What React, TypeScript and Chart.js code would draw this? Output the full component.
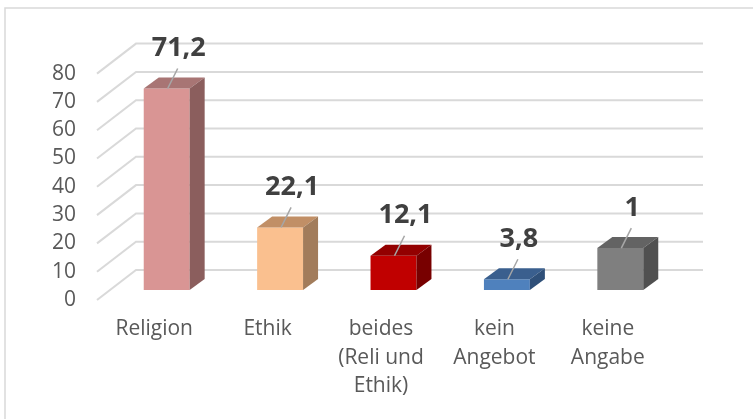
import React, { useEffect, useRef } from "react";
import { Chart, registerables } from "chart.js";

Chart.register(...registerables);

const categories: (string | string[])[] = [
  "Religion",
  "Ethik",
  ["beides", "(Reli und", "Ethik)"],
  ["kein", "Angebot"],
  ["keine", "Angabe"],
];
const values = [71.2, 22.1, 12.1, 3.8, 14.8];
const valueLabels = ["71,2", "22,1", "12,1", "3,8", "1"];
const yMin = 0;
const yMax = 80;
const yStep = 10;

const frontColors = ["#d99594", "#fac08f", "#c00000", "#4f81bd", "#7f7f7f"];
const topColors = ["#a87574", "#c18f66", "#930000", "#3a5f8e", "#636363"];
const sideColors = ["#8b5e5d", "#a27c5b", "#780000", "#2f5079", "#505050"];

const FONT = "'Open Sans', 'DejaVu Sans', sans-serif";

const DEPTH_DX = 15;
const DEPTH_DY = -11;
const WALL_DX = 26;
const WALL_DY = -20;
const FLOOR_DX = -13;
const FLOOR_DY = 10;

const threeD = {
  id: "threeD",
  beforeDraw(chart: any) {
    const { ctx, width, height } = chart;
    ctx.save();
    ctx.fillStyle = "#ffffff";
    ctx.fillRect(0, 0, width, height);
    ctx.strokeStyle = "#d9d9d9";
    ctx.lineWidth = 1.5;
    ctx.strokeRect(5, 8, width + 20, height + 20);
    ctx.restore();
  },
  beforeDatasetsDraw(chart: any) {
    const { ctx, chartArea } = chart;
    const ys = chart.scales.y;
    ctx.save();
    ctx.strokeStyle = "#d9d9d9";
    ctx.lineWidth = 2;
    for (let v = yMin; v <= yMax; v += yStep) {
      const y = ys.getPixelForValue(v);
      ctx.beginPath();
      ctx.moveTo(chartArea.left + FLOOR_DX, y + FLOOR_DY);
      ctx.lineTo(chartArea.left + WALL_DX, y + WALL_DY);
      ctx.lineTo(chartArea.right + WALL_DX, y + WALL_DY);
      ctx.stroke();
    }
    ctx.restore();
  },
  afterDatasetsDraw(chart: any) {
    const { ctx } = chart;
    const meta = chart.getDatasetMeta(0);
    ctx.save();
    meta.data.forEach((bar: any, i: number) => {
      const { x, y, base, width } = bar.getProps(["x", "y", "base", "width"], true);
      const l = x - width / 2;
      const r = x + width / 2;
      ctx.fillStyle = topColors[i];
      ctx.beginPath();
      ctx.moveTo(l, y);
      ctx.lineTo(r, y);
      ctx.lineTo(r + DEPTH_DX, y + DEPTH_DY);
      ctx.lineTo(l + DEPTH_DX, y + DEPTH_DY);
      ctx.closePath();
      ctx.fill();
      ctx.fillStyle = sideColors[i];
      ctx.beginPath();
      ctx.moveTo(r, y);
      ctx.lineTo(r + DEPTH_DX, y + DEPTH_DY);
      ctx.lineTo(r + DEPTH_DX, base + DEPTH_DY);
      ctx.lineTo(r, base);
      ctx.closePath();
      ctx.fill();
    });
    meta.data.forEach((bar: any, i: number) => {
      const { x, y } = bar.getProps(["x", "y"], true);
      ctx.strokeStyle = "#a6a6a6";
      ctx.lineWidth = 1.5;
      ctx.beginPath();
      ctx.moveTo(x + 11, y - 20);
      ctx.lineTo(x + 1, y);
      ctx.stroke();
      ctx.fillStyle = "#404040";
      ctx.font = `bold 27px ${FONT}`;
      ctx.textAlign = "center";
      ctx.textBaseline = "middle";
      ctx.fillText(valueLabels[i], x + 12, y - 40);
    });
    ctx.restore();
  },
};

export default function App() {
  const ref = useRef<HTMLCanvasElement>(null);
  useEffect(() => {
    if (!ref.current) return;
    const chart = new Chart(ref.current, {
      type: "bar",
      data: {
        labels: categories,
        datasets: [
          {
            data: values,
            backgroundColor: frontColors,
            borderWidth: 0,
            barPercentage: 0.405,
            categoryPercentage: 1,
          },
        ],
      },
      options: {
        responsive: false,
        animation: false,
        devicePixelRatio: 1,
        layout: { padding: { left: 0, right: 76, top: 63.6, bottom: 0 } },
        plugins: { legend: { display: false }, tooltip: { enabled: false } },
        scales: {
          x: {
            grid: { display: false, drawTicks: false },
            border: { display: false },
            ticks: {
              color: "#595959",
              font: { family: FONT, size: 21, lineHeight: 1.36 },
              padding: 25,
              labelOffset: -12.5,
              maxRotation: 0,
              autoSkip: false,
            },
            afterFit: (s: any) => {
              s.height = 129;
            },
          },
          y: {
            min: yMin,
            max: yMax,
            grid: { display: false, drawTicks: false },
            border: { display: false },
            ticks: {
              stepSize: yStep,
              color: "#595959",
              font: { family: FONT, size: 21 },
              padding: 34,
              labelOffset: 10,
            },
            afterFit: (s: any) => {
              s.width = 110;
            },
          },
        },
      },
      plugins: [threeD],
    });
    return () => chart.destroy();
  }, []);
  return (
    <div style={{ position: "absolute", left: 0, top: 0, width: 753, height: 419 }}>
      <canvas ref={ref} width={753} height={419} />
    </div>
  );
}
